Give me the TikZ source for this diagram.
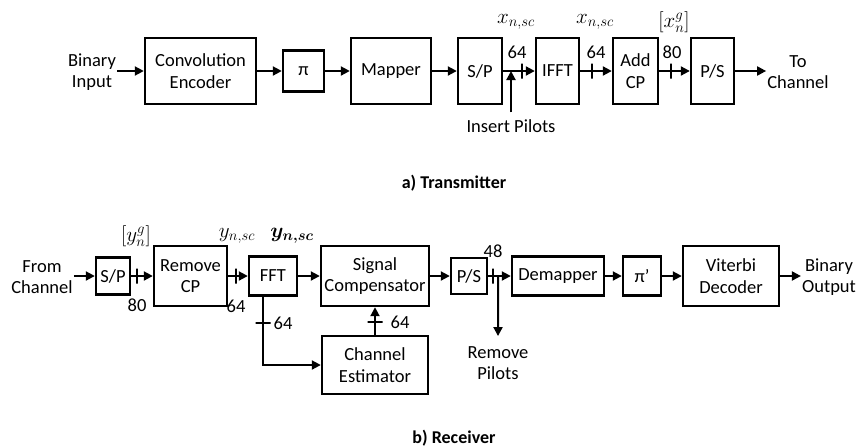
\documentclass[tikz,border=0pt]{standalone}
\usepackage{fix-cm}
\usepackage{fontspec}
\setmainfont{Carlito}
\usepackage{amsmath,bm}
\usetikzlibrary{arrows.meta,calc}

\tikzset{
  blk/.style={draw, line width=2.4pt, inner sep=0pt, align=center},
  arr/.style={line width=2pt, -{Triangle[length=9pt,width=9pt]}},
  tick/.style={draw, line width=2pt, inner sep=0pt, minimum width=0pt, minimum height=15pt},
  htick/.style={draw, line width=2pt, inner sep=0pt, minimum width=15pt, minimum height=0pt},
  txt/.style={align=center, inner sep=1pt},
  lab/.style={inner sep=0pt},
  mth/.style={inner sep=0pt, font=\fontsize{21}{24}\selectfont},
  ttl/.style={font=\fontsize{18}{20}\selectfont\bfseries},
}

\begin{document}
\begin{tikzpicture}[x=1pt, y=-1pt, font=\fontsize{18.5}{21.5}\selectfont]
  \useasboundingbox (0,0) rectangle (858,447);
  % transmitter
  \node[txt] (bin) at (92,72) {Binary\\Input};
  \node[blk, minimum width=111pt, minimum height=66pt] (enc) at (200.5,71) {Convolution\\Encoder};
  \node[blk, minimum width=41pt, minimum height=41pt] (pi) at (303.5,71) {π};
  \node[blk, minimum width=80pt, minimum height=66pt] (map) at (391,71) {Mapper};
  \node[blk, minimum width=44pt, minimum height=66pt] (sp) at (480,71) {S/P};
  \node[blk, minimum width=43pt, minimum height=66pt] (ifft) at (557.5,71) {IFFT};
  \node[blk, minimum width=45pt, minimum height=66pt] (acp) at (635.5,71) {Add\\CP};
  \node[blk, minimum width=43pt, minimum height=66pt] (ps) at (712.5,71) {P/S};
  \node[txt] (tch) at (798,72) {To\\Channel};
  \node[txt] (pil) at (511,126) {Insert Pilots};
  \node[mth] (x1) at (516,22) {$x_{n,sc}$};
  \node[mth] (x2) at (595,22) {$x_{n,sc}$};
  \node[mth] (xg) at (674,22) {$[x_n^g]$};
  \node[lab] (n1) at (517,52) {64};
  \node[lab] (n2) at (596,52) {64};
  \node[lab] (n3) at (672,52) {80};
  \draw[arr] (bin.east |- enc.west) -- (enc);
  \draw[arr] (enc) -- (pi);
  \draw[arr] (pi) -- (map);
  \draw[arr] (map) -- (sp);
  \draw[arr] (sp) -- node[tick, pos=0.59] {} (ifft);
  \draw[arr] (ifft) -- node[tick, pos=0.38] {} (acp);
  \draw[arr] (acp) -- node[tick, pos=0.39] {} (ps);
  \draw[arr] (ps) -- (tch.west |- ps.east);
  \draw[arr] ([yshift=6pt]pil.north) -- (pil.north |- sp.east);
  \node[ttl] (ta) at (454,183) {a) Transmitter};

  % receiver
  \node[txt] (fch) at (42,277) {From\\Channel};
  \node[blk, minimum width=34pt, minimum height=37pt] (rsp) at (113,276) {S/P};
  \node[blk, minimum width=73pt, minimum height=60pt] (rcp) at (190.5,276) {Remove\\CP};
  \node[blk, minimum width=48pt, minimum height=39pt] (fft) at (273,276) {FFT};
  \node[blk, minimum width=108pt, minimum height=60pt] (sc) at (375,276) {Signal\\Compensator};
  \node[blk, minimum width=106pt, minimum height=58pt] (ce) at (375,365) {Channel\\Estimator};
  \node[blk, minimum width=36pt, minimum height=36pt] (rps) at (469,276) {P/S};
  \node[blk, minimum width=92pt, minimum height=39pt] (dem) at (558,276) {Demapper};
  \node[blk, minimum width=38pt, minimum height=39pt] (pip) at (642,276) {π'};
  \node[blk, minimum width=96pt, minimum height=60pt] (vit) at (731,276) {Viterbi\\Decoder};
  \node[txt] (bout) at (829,277) {Binary\\Output};
  \node[txt] (rp) at (498,363) {Remove\\Pilots};
  \node[mth] (yg) at (136,236) {$[y_n^g]$};
  \node[mth] (y1) at (237,236) {$y_{n,sc}$};
  \node[mth] (y2) at (292,236) {$\bm{y_{n,sc}}$};
  \node[lab] (m1) at (137,305) {80};
  \node[lab] (m2) at (236,306) {64};
  \node[lab] (m3) at (283,323) {64};
  \node[lab] (m4) at (400,322) {64};
  \node[lab] (m5) at (493,251) {48};
  \draw[arr] (fch.east |- rsp.west) -- (rsp);
  \draw[arr] (rsp) -- node[tick, pos=0.29] {} (rcp);
  \draw[arr] (rcp) -- node[tick, pos=0.41] {} (fft);
  \draw[arr] (fft) -- (sc);
  \draw[arr] ([xshift=-10pt]fft.south) -- node[htick, pos=0.38] {} ([xshift=-10pt]fft.south |- ce.west) -- (ce.west);
  \draw[arr] (ce) -- node[htick, pos=0.45] {} (sc);
  \draw[arr] (sc) -- (rps);
  \draw[arr] (rps) -- node[tick, pos=0.2] {} coordinate[pos=0.44] (br) (dem);
  \draw[arr] (br) -- ([yshift=9pt]rp.north);
  \draw[arr] (dem) -- (pip);
  \draw[arr] (pip) -- (vit);
  \draw[arr] (vit) -- (bout.west |- vit.east);
  \node[ttl] (tb) at (454,438) {b) Receiver};
\end{tikzpicture}
\end{document}
